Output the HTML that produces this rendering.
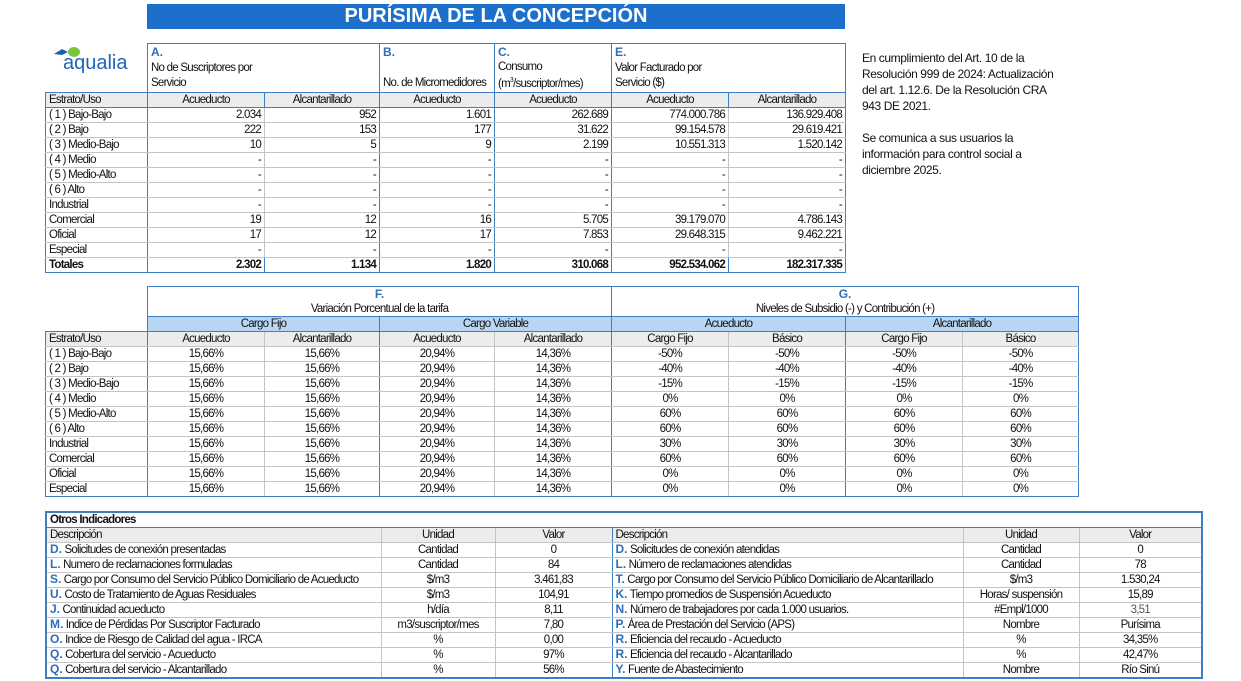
<!DOCTYPE html>
<html><head><meta charset="utf-8"><style>
*{box-sizing:border-box;margin:0;padding:0}
body{width:1241px;height:681px;background:#fff;position:relative;overflow:hidden;font-family:"Liberation Sans",sans-serif;font-size:11.5px;color:#111;letter-spacing:-0.75px}
table{position:absolute;border-collapse:collapse;table-layout:fixed}
td{border:1px solid #c4c4c4;height:15px;line-height:13px;padding:1px 3px 0;white-space:nowrap;overflow:hidden;text-align:center}
td.l{text-align:left}
td.r{text-align:right}
.hd td{background:#ececec}
.b{border-color:#3d7fc0}
.bl{border-left:1px solid #3d7fc0}
.br{border-right:1px solid #3d7fc0}
.lt{color:#2e6eb8;font-weight:bold;letter-spacing:0;font-size:12px;line-height:10px}
.sub td{background:#b8d6f4;border-color:#3d7fc0}
.tot td{font-weight:bold;border-bottom:1px solid #3d7fc0}
#title{position:absolute;left:147px;top:4px;width:698px;height:25px;background:#1c6fcb;color:#fff;font-weight:bold;font-size:20px;text-align:center;line-height:25px;letter-spacing:0}
#note{position:absolute;left:862px;top:50px;font-size:12px;line-height:16px;letter-spacing:-0.4px}
#t3 td{height:15px;max-height:15px}
</style></head><body>
<div id="title">PURÍSIMA DE LA CONCEPCIÓN</div>
<div style="position:absolute;left:50px;top:46px;width:90px;height:34px">
<svg width="40" height="14" style="position:absolute;left:2px;top:0"><path d="M2 8 L10 3 L16 6 L10 9 Z" fill="#1b5fb0"/><ellipse cx="22" cy="6" rx="6" ry="5" fill="#7cc242"/></svg>
<div style="position:absolute;left:13px;top:6px;color:#1f66b7;font-size:20px;letter-spacing:0">aqualia</div></div>
<div id="note">En cumplimiento del Art. 10 de la<br>Resolución 999 de 2024: Actualización<br>del art. 1.12.6. De la Resolución CRA<br>943 DE 2021.<br><br>Se comunica a sus usuarios la<br>información para control social a<br>diciembre 2025.</div>

<table style="left:45px;top:43px;width:800px">
<colgroup><col style="width:102px"><col style="width:117px"><col style="width:115px"><col style="width:115px"><col style="width:117px"><col style="width:117px"><col style="width:117px"></colgroup>
<tr><td style="border:none;height:49px"></td>
<td colspan="2" class="l b" style="vertical-align:top;line-height:15px"><span class="lt" style="line-height:15px">A.</span><br>No de Suscriptores por<br>Servicio</td>
<td class="l b" style="vertical-align:top;line-height:15px"><span class="lt" style="line-height:15px">B.</span><br><br>No. de Micromedidores</td>
<td class="l b" style="vertical-align:top;line-height:14px"><span class="lt" style="line-height:14px">C.</span><br>Consumo<br>(m<sup style="font-size:7px">3</sup>/suscriptor/mes)</td>
<td colspan="2" class="l b" style="vertical-align:top;line-height:15px"><span class="lt" style="line-height:15px">E.</span><br>Valor Facturado por<br>Servicio ($)</td></tr>
<tr class="hd"><td class="l b" style="height:13px;padding-top:0;line-height:12px">Estrato/Uso</td><td class="b" style="padding-top:0;line-height:12px">Acueducto</td><td class="b" style="padding-top:0;line-height:12px">Alcantarillado</td><td class="b" style="padding-top:0;line-height:12px">Acueducto</td><td class="b" style="padding-top:0;line-height:12px">Acueducto</td><td class="b" style="padding-top:0;line-height:12px">Acueducto</td><td class="b" style="padding-top:0;line-height:12px">Alcantarillado</td></tr>
<tr><td class="l bl br">( 1 ) Bajo-Bajo</td><td class="r">2.034</td><td class="r br">952</td><td class="r br">1.601</td><td class="r br">262.689</td><td class="r">774.000.786</td><td class="r br">136.929.408</td></tr>
<tr><td class="l bl br">( 2 ) Bajo</td><td class="r">222</td><td class="r br">153</td><td class="r br">177</td><td class="r br">31.622</td><td class="r">99.154.578</td><td class="r br">29.619.421</td></tr>
<tr><td class="l bl br">( 3 ) Medio-Bajo</td><td class="r">10</td><td class="r br">5</td><td class="r br">9</td><td class="r br">2.199</td><td class="r">10.551.313</td><td class="r br">1.520.142</td></tr>
<tr><td class="l bl br">( 4 ) Medio</td><td class="r">-</td><td class="r br">-</td><td class="r br">-</td><td class="r br">-</td><td class="r">-</td><td class="r br">-</td></tr>
<tr><td class="l bl br">( 5 ) Medio-Alto</td><td class="r">-</td><td class="r br">-</td><td class="r br">-</td><td class="r br">-</td><td class="r">-</td><td class="r br">-</td></tr>
<tr><td class="l bl br">( 6 ) Alto</td><td class="r">-</td><td class="r br">-</td><td class="r br">-</td><td class="r br">-</td><td class="r">-</td><td class="r br">-</td></tr>
<tr><td class="l bl br">Industrial</td><td class="r">-</td><td class="r br">-</td><td class="r br">-</td><td class="r br">-</td><td class="r">-</td><td class="r br">-</td></tr>
<tr><td class="l bl br">Comercial</td><td class="r">19</td><td class="r br">12</td><td class="r br">16</td><td class="r br">5.705</td><td class="r">39.179.070</td><td class="r br">4.786.143</td></tr>
<tr><td class="l bl br">Oficial</td><td class="r">17</td><td class="r br">12</td><td class="r br">17</td><td class="r br">7.853</td><td class="r">29.648.315</td><td class="r br">9.462.221</td></tr>
<tr><td class="l bl br">Especial</td><td class="r">-</td><td class="r br">-</td><td class="r br">-</td><td class="r br">-</td><td class="r">-</td><td class="r br">-</td></tr>
<tr class="tot"><td class="l b">Totales</td><td class="r b">2.302</td><td class="r b">1.134</td><td class="r b">1.820</td><td class="r b">310.068</td><td class="r b">952.534.062</td><td class="r b">182.317.335</td></tr>
</table>

<table style="left:45px;top:286px;width:1033px">
<colgroup><col style="width:102px"><col style="width:117px"><col style="width:115px"><col style="width:115px"><col style="width:117px"><col style="width:117px"><col style="width:117px"><col style="width:117px"><col style="width:116px"></colgroup>
<tr><td style="border:none;height:29px"></td><td colspan="4" class="b" style="line-height:14px;padding-top:0"><span class="lt" style="line-height:14px">F.</span><br>Variación Porcentual de la tarifa</td><td colspan="4" class="b" style="line-height:14px;padding-top:0"><span class="lt" style="line-height:14px">G.</span><br>Niveles de Subsidio (-) y Contribución (+)</td></tr>
<tr class="sub"><td style="border:none;border-bottom:1px solid #3d7fc0;background:#fff"></td><td colspan="2">Cargo Fijo</td><td colspan="2">Cargo Variable</td><td colspan="2">Acueducto</td><td colspan="2">Alcantarillado</td></tr>
<tr class="hd"><td class="l bl br">Estrato/Uso</td><td>Acueducto</td><td class="br">Alcantarillado</td><td>Acueducto</td><td class="br">Alcantarillado</td><td>Cargo Fijo</td><td class="br">Básico</td><td>Cargo Fijo</td><td class="br">Básico</td></tr>
<tr><td class="l bl br">( 1 ) Bajo-Bajo</td><td>15,66%</td><td class="br">15,66%</td><td>20,94%</td><td class="br">14,36%</td><td>-50%</td><td class="br">-50%</td><td>-50%</td><td class="br">-50%</td></tr>
<tr><td class="l bl br">( 2 ) Bajo</td><td>15,66%</td><td class="br">15,66%</td><td>20,94%</td><td class="br">14,36%</td><td>-40%</td><td class="br">-40%</td><td>-40%</td><td class="br">-40%</td></tr>
<tr><td class="l bl br">( 3 ) Medio-Bajo</td><td>15,66%</td><td class="br">15,66%</td><td>20,94%</td><td class="br">14,36%</td><td>-15%</td><td class="br">-15%</td><td>-15%</td><td class="br">-15%</td></tr>
<tr><td class="l bl br">( 4 ) Medio</td><td>15,66%</td><td class="br">15,66%</td><td>20,94%</td><td class="br">14,36%</td><td>0%</td><td class="br">0%</td><td>0%</td><td class="br">0%</td></tr>
<tr><td class="l bl br">( 5 ) Medio-Alto</td><td>15,66%</td><td class="br">15,66%</td><td>20,94%</td><td class="br">14,36%</td><td>60%</td><td class="br">60%</td><td>60%</td><td class="br">60%</td></tr>
<tr><td class="l bl br">( 6 ) Alto</td><td>15,66%</td><td class="br">15,66%</td><td>20,94%</td><td class="br">14,36%</td><td>60%</td><td class="br">60%</td><td>60%</td><td class="br">60%</td></tr>
<tr><td class="l bl br">Industrial</td><td>15,66%</td><td class="br">15,66%</td><td>20,94%</td><td class="br">14,36%</td><td>30%</td><td class="br">30%</td><td>30%</td><td class="br">30%</td></tr>
<tr><td class="l bl br">Comercial</td><td>15,66%</td><td class="br">15,66%</td><td>20,94%</td><td class="br">14,36%</td><td>60%</td><td class="br">60%</td><td>60%</td><td class="br">60%</td></tr>
<tr><td class="l bl br">Oficial</td><td>15,66%</td><td class="br">15,66%</td><td>20,94%</td><td class="br">14,36%</td><td>0%</td><td class="br">0%</td><td>0%</td><td class="br">0%</td></tr>
<tr class="tot"><td class="l bl br" style="font-weight:normal">Especial</td><td style="font-weight:normal">15,66%</td><td class="br" style="font-weight:normal">15,66%</td><td style="font-weight:normal">20,94%</td><td class="br" style="font-weight:normal">14,36%</td><td style="font-weight:normal">0%</td><td class="br" style="font-weight:normal">0%</td><td style="font-weight:normal">0%</td><td class="br" style="font-weight:normal">0%</td></tr>
</table>

<table id="t3" style="left:45px;top:511px;width:1156px;border:2px solid #3d7fc0">
<colgroup><col style="width:335px"><col style="width:114px"><col style="width:117px"><col style="width:351px"><col style="width:116px"><col style="width:123px"></colgroup>
<tr><td colspan="6" class="l b" style="font-weight:bold">Otros Indicadores</td></tr>
<tr class="hd"><td class="l" style="padding-top:0">Descripción</td><td style="padding-top:0">Unidad</td><td class="br" style="padding-top:0">Valor</td><td class="l" style="padding-top:0">Descripción</td><td style="padding-top:0">Unidad</td><td style="padding-top:0">Valor</td></tr>
<tr><td class="l"><span class="lt">D.</span> Solicitudes de conexión presentadas</td><td>Cantidad</td><td class="br">0</td><td class="l"><span class="lt">D.</span> Solicitudes de conexión atendidas</td><td>Cantidad</td><td>0</td></tr>
<tr><td class="l"><span class="lt">L.</span> Numero de reclamaciones formuladas</td><td>Cantidad</td><td class="br">84</td><td class="l"><span class="lt">L.</span> Número de reclamaciones atendidas</td><td>Cantidad</td><td>78</td></tr>
<tr><td class="l"><span class="lt">S.</span> Cargo por Consumo del Servicio Público Domiciliario de Acueducto</td><td>$/m3</td><td class="br">3.461,83</td><td class="l"><span class="lt">T.</span> Cargo por Consumo del Servicio Público Domiciliario de Alcantarillado</td><td>$/m3</td><td>1.530,24</td></tr>
<tr><td class="l"><span class="lt">U.</span> Costo de Tratamiento de Aguas Residuales</td><td>$/m3</td><td class="br">104,91</td><td class="l"><span class="lt">K.</span> Tiempo promedios de Suspensión Acueducto</td><td>Horas/ suspensión</td><td>15,89</td></tr>
<tr><td class="l"><span class="lt">J.</span> Continuidad acueducto</td><td>h/día</td><td class="br">8,11</td><td class="l"><span class="lt">N.</span> Número de trabajadores por cada 1.000 usuarios.</td><td>#Empl/1000</td><td style="color:#555">3,51</td></tr>
<tr><td class="l"><span class="lt">M.</span> Indice de Pérdidas Por Suscriptor Facturado</td><td>m3/suscriptor/mes</td><td class="br">7,80</td><td class="l"><span class="lt">P.</span> Área de Prestación del Servicio (APS)</td><td>Nombre</td><td>Purísima</td></tr>
<tr><td class="l"><span class="lt">O.</span> Indice de Riesgo de Calidad del agua - IRCA</td><td>%</td><td class="br">0,00</td><td class="l"><span class="lt">R.</span> Eficiencia del recaudo - Acueducto</td><td>%</td><td>34,35%</td></tr>
<tr><td class="l"><span class="lt">Q.</span> Cobertura del servicio - Acueducto</td><td>%</td><td class="br">97%</td><td class="l"><span class="lt">R.</span> Eficiencia del recaudo - Alcantarillado</td><td>%</td><td>42,47%</td></tr>
<tr><td class="l"><span class="lt">Q.</span> Cobertura del servicio - Alcantarillado</td><td>%</td><td class="br">56%</td><td class="l"><span class="lt">Y.</span> Fuente de Abastecimiento</td><td>Nombre</td><td>Río Sinú</td></tr>
</table>
</body></html>
